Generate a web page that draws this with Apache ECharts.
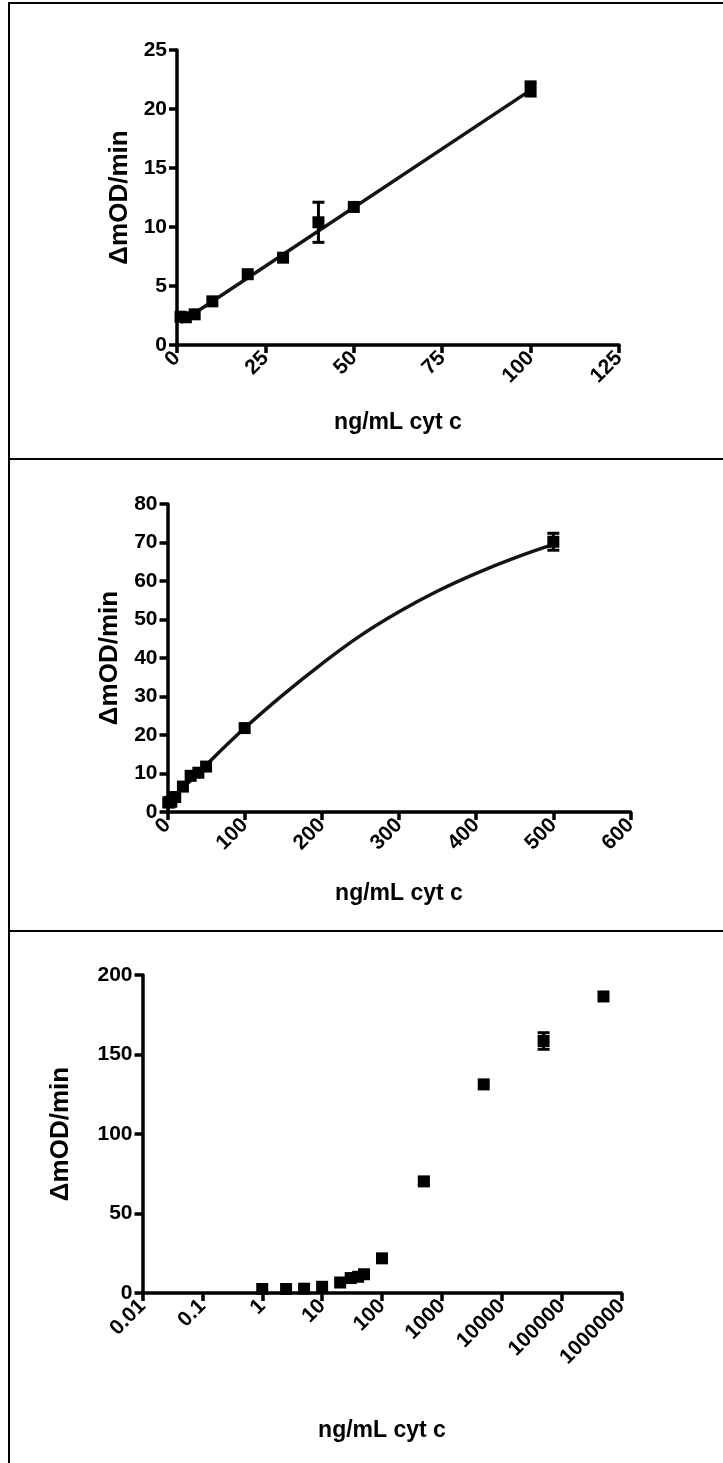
<!DOCTYPE html>
<html>
<head>
<meta charset="utf-8">
<script src="https://cdn.jsdelivr.net/npm/echarts@6/dist/echarts.min.js"></script>
<style>
  html, body { margin: 0; padding: 0; background: #fff; }
  #chart { width: 723px; height: 1463px; }
</style>
</head>
<body>
<div id="chart"></div>
<script>
// Top panel: low-range standards (ng/mL cyt c) with linear fit
const concA = [1, 2.5, 5, 10, 20, 30, 40, 50, 100];
const rateA = [2.4, 2.35, 2.6, 3.7, 6.0, 7.4, 10.4, 11.7, 21.7];
const sdA   = [0, 0, 0, 0, 0, 0, 1.7, 0, 0.6];
const fitAx = [1, 100];
const fitAy = [1.9, 21.6];

// Middle and bottom panels: full standard range
const concB = [1, 2.5, 5, 10, 20, 30, 40, 50, 100, 500, 5000, 50000, 500000];
const rateB = [2.5, 2.5, 2.7, 3.9, 6.6, 9.4, 10.2, 11.8, 21.8, 70.2, 131.2, 158.5, 186.5];
const sdB   = [0, 0, 0, 0, 0, 0, 0, 0, 0, 2.2, 0, 5.2, 0];

// Curved fit through the 1–500 ng/mL points
const fitBx = [1, 50, 100, 150, 200, 250, 300, 350, 400, 450, 500];
const fitBy = [2.3, 12.2, 21.8, 30.5, 38.5, 45.8, 52, 57.4, 62, 66, 69.5];

// Log-axis tick labels, 0.01 ... 1000000
const logTickLabels = ['0.01', '0.1', '1', '10', '100', '1000', '10000', '100000', '1000000'];

const yTitle = '\u0394mOD/min';
const xTitle = 'ng/mL cyt c';

const FONT = "'Liberation Sans', Arial, sans-serif";
const AXIS_W = 3.5;
const TICK_FS = 21;
const MARK = 12;

function pairs(xs, ys) { return xs.map((x, i) => [x, ys[i]]); }

function baseAxis(extra) {
  return Object.assign({
    axisLine: { show: true, onZero: false, lineStyle: { color: '#000', width: AXIS_W } },
    axisTick: { show: true, inside: false, length: 8, lineStyle: { color: '#000', width: AXIS_W } },
    splitLine: { show: false },
    nameLocation: 'middle'
  }, extra);
}

function xLabel(extra) {
  return Object.assign({
    rotate: 45, margin: 10, fontFamily: FONT, fontWeight: 'bold', fontSize: TICK_FS, color: '#000',
    showMinLabel: true, showMaxLabel: true
  }, extra || {});
}

function xAx(grid, opts, nameGap) {
  return baseAxis(Object.assign({
    gridIndex: grid,
    name: xTitle,
    nameGap: nameGap,
    nameTextStyle: { fontFamily: FONT, fontWeight: 'bold', color: '#000', fontSize: 23 },
    axisLabel: xLabel()
  }, opts));
}

function yAx(grid, opts, nameGap) {
  return baseAxis(Object.assign({
    gridIndex: grid,
    name: yTitle,
    nameGap: nameGap,
    nameRotate: 90,
    nameTextStyle: { fontFamily: FONT, fontWeight: 'bold', color: '#000', fontSize: 26 },
    axisLabel: { margin: 10, fontFamily: FONT, fontWeight: 'bold', fontSize: TICK_FS, color: '#000' }
  }, opts));
}

function points(idx, conc, rate) {
  return {
    type: 'scatter', xAxisIndex: idx, yAxisIndex: idx,
    symbol: 'rect', symbolSize: MARK,
    itemStyle: { color: '#000', opacity: 1 }, z: 5,
    data: pairs(conc, rate)
  };
}

function fitLine(idx, xs, ys, smooth) {
  return {
    type: 'line', xAxisIndex: idx, yAxisIndex: idx,
    showSymbol: false, smooth: smooth ? 0.4 : false,
    lineStyle: { color: '#141414', width: 3.5 }, z: 3,
    data: pairs(xs, ys)
  };
}

// Mean ± SD bars with caps, drawn beneath the square markers
function errorBars(idx, conc, rate, sd) {
  const data = [];
  conc.forEach((c, i) => { if (sd[i] > 0) data.push([c, rate[i] - sd[i], rate[i] + sd[i]]); });
  return {
    type: 'custom', xAxisIndex: idx, yAxisIndex: idx, z: 4,
    encode: { x: 0, y: [1, 2] },
    data: data,
    renderItem: function (params, api) {
      const lo = api.coord([api.value(0), api.value(1)]);
      const hi = api.coord([api.value(0), api.value(2)]);
      const w = MARK / 2;
      const st = { stroke: '#000', lineWidth: 3 };
      return {
        type: 'group', children: [
          { type: 'line', shape: { x1: lo[0], y1: lo[1], x2: hi[0], y2: hi[1] }, style: st },
          { type: 'line', shape: { x1: lo[0] - w, y1: lo[1], x2: lo[0] + w, y2: lo[1] }, style: st },
          { type: 'line', shape: { x1: hi[0] - w, y1: hi[1], x2: hi[0] + w, y2: hi[1] }, style: st }
        ]
      };
    }
  };
}

// Only standards within the middle panel's 0–600 range
const midConc = concB.filter(c => c <= 600);
const midRate = rateB.slice(0, midConc.length);
const midSd = sdB.slice(0, midConc.length);

const frame = { stroke: '#000', lineWidth: 2 };

const option = {
  animation: false,
  backgroundColor: '#fff',
  grid: [
    { left: 177, top: 50, width: 442, height: 295 },
    { left: 167.5, top: 504, width: 463, height: 308 },
    { left: 142.5, top: 975, width: 479, height: 318 }
  ],
  xAxis: [
    xAx(0, { type: 'value', min: 0, max: 125, interval: 25 }, 66),
    xAx(1, { type: 'value', min: 0, max: 600, interval: 100 }, 70),
    xAx(2, {
      type: 'log', logBase: 10, min: 0.01, max: 1000000,
      axisLabel: xLabel({ formatter: v => logTickLabels[Math.round(Math.log10(v)) + 2] })
    }, 126)
  ],
  yAxis: [
    yAx(0, { type: 'value', min: 0, max: 25, interval: 5 }, 43),
    yAx(1, { type: 'value', min: 0, max: 80, interval: 10 }, 45),
    yAx(2, { type: 'value', min: 0, max: 200, interval: 50 }, 69)
  ],
  graphic: [
    { type: 'line', shape: { x1: 9, y1: 3, x2: 723, y2: 3 }, style: frame },
    { type: 'line', shape: { x1: 9, y1: 2, x2: 9, y2: 1463 }, style: frame },
    { type: 'line', shape: { x1: 9, y1: 459, x2: 723, y2: 459 }, style: frame },
    { type: 'line', shape: { x1: 9, y1: 931, x2: 723, y2: 931 }, style: frame }
  ],
  series: [
    fitLine(0, fitAx, fitAy, false),
    errorBars(0, concA, rateA, sdA),
    points(0, concA, rateA),

    fitLine(1, fitBx, fitBy, true),
    errorBars(1, midConc, midRate, midSd),
    points(1, midConc, midRate),

    errorBars(2, concB, rateB, sdB),
    points(2, concB, rateB)
  ]
};

const chart = echarts.init(document.getElementById('chart'), null, { renderer: 'canvas' });
chart.setOption(option);
</script>
</body>
</html>
